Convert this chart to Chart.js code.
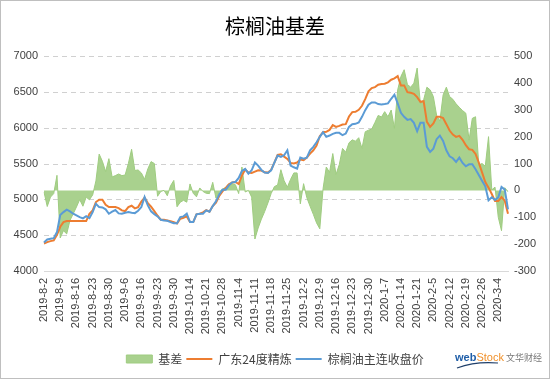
<!DOCTYPE html>
<html><head><meta charset="utf-8">
<script src="https://cdn.jsdelivr.net/npm/chart.js@4.4.1/dist/chart.umd.min.js"></script>
<style>
html,body{margin:0;padding:0;background:#fff;}
#wrap{position:relative;width:550px;height:379px;}
canvas{display:block;}
</style></head><body>
<div id="wrap"><canvas id="c" width="550" height="379"></canvas></div>
<script>
const dates = [
"2019-8-2","2019-8-5","2019-8-6","2019-8-7","2019-8-8","2019-8-9","2019-8-12","2019-8-13","2019-8-14","2019-8-15",
"2019-8-16","2019-8-19","2019-8-20","2019-8-21","2019-8-22","2019-8-23","2019-8-26","2019-8-27","2019-8-28","2019-8-29",
"2019-8-30","2019-9-2","2019-9-3","2019-9-4","2019-9-5","2019-9-6","2019-9-9","2019-9-10","2019-9-11","2019-9-12",
"2019-9-16","2019-9-17","2019-9-18","2019-9-19","2019-9-20","2019-9-23","2019-9-24","2019-9-25","2019-9-26","2019-9-27",
"2019-9-30","2019-10-8","2019-10-9","2019-10-10","2019-10-11","2019-10-14","2019-10-15","2019-10-16","2019-10-17","2019-10-18",
"2019-10-21","2019-10-22","2019-10-23","2019-10-24","2019-10-25","2019-10-28","2019-10-29","2019-10-30","2019-10-31","2019-11-1",
"2019-11-4","2019-11-5","2019-11-6","2019-11-7","2019-11-8","2019-11-11","2019-11-12","2019-11-13","2019-11-14","2019-11-15",
"2019-11-18","2019-11-19","2019-11-20","2019-11-21","2019-11-22","2019-11-25","2019-11-26","2019-11-27","2019-11-28","2019-11-29",
"2019-12-2","2019-12-3","2019-12-4","2019-12-5","2019-12-6","2019-12-9","2019-12-10","2019-12-11","2019-12-12","2019-12-13",
"2019-12-16","2019-12-17","2019-12-18","2019-12-19","2019-12-20","2019-12-23","2019-12-24","2019-12-25","2019-12-26","2019-12-27",
"2019-12-30","2019-12-31","2020-1-2","2020-1-3","2020-1-6","2020-1-7","2020-1-8","2020-1-9","2020-1-10","2020-1-13",
"2020-1-14","2020-1-15","2020-1-16","2020-1-17","2020-1-20","2020-1-21","2020-1-22","2020-1-23","2020-2-3","2020-2-4",
"2020-2-5","2020-2-6","2020-2-7","2020-2-10","2020-2-11","2020-2-12","2020-2-13","2020-2-14","2020-2-17","2020-2-18",
"2020-2-19","2020-2-20","2020-2-21","2020-2-24","2020-2-25","2020-2-26","2020-2-27","2020-2-28","2020-3-2","2020-3-3",
"2020-3-4","2020-3-5","2020-3-6","2020-3-9"
];
const basis = [
-6,-60,-25,-12,56,-177,-150,-162,-112,-87,
-62,-34,-59,-25,-35,-17,35,135,108,70,
118,50,55,61,55,57,100,153,74,76,
65,41,80,107,100,-22,-4,0,-20,17,
37,-61,-44,-37,-44,24,-11,-24,9,-4,
-11,-12,30,-29,-6,5,11,25,25,21,
-12,87,-6,0,-25,-181,-140,-107,-79,-47,
-12,14,20,77,36,12,41,65,65,-50,
25,-27,-59,-89,-121,-143,6,87,67,137,
59,96,156,142,177,188,183,196,156,218,
224,228,253,279,273,293,274,299,231,374,
424,449,394,384,399,455,322,337,384,374,
349,279,258,355,384,349,339,322,309,297,
287,187,268,274,94,100,90,200,2,12,
-100,-150,10,-5
];
const gd24 = [
4384,4403,4417,4426,4505,4617,4682,4696,4696,4696,
4696,4696,4696,4696,4799,4846,4962,4995,4995,4925,
4892,4892,4892,4878,4846,4836,4892,4911,4874,4892,
4967,5023,4948,4897,4836,4771,4715,4715,4706,4696,
4682,4664,4729,4743,4762,4682,4682,4790,4799,4818,
4850,4827,4906,4953,5046,5111,5158,5209,5237,5242,
5214,5331,5415,5373,5368,5387,5405,5401,5377,5373,
5410,5513,5620,5629,5596,5564,5508,5499,5513,5554,
5545,5582,5638,5685,5750,5881,5937,5942,5969,6035,
6011,6025,6044,6049,6156,6217,6221,6249,6305,6398,
6506,6552,6566,6599,6608,6613,6632,6669,6688,6720,
6590,6590,6496,6487,6473,6426,6361,6370,6081,6011,
6058,6151,6151,6133,6049,5960,5904,5872,5886,5830,
5755,5699,5690,5634,5513,5377,5242,5163,5074,4976,
4976,5032,4981,4799
];
const futures = [
4398,4440,4449,4459,4543,4780,4822,4855,4832,4799,
4776,4752,4734,4766,4738,4822,4939,4892,4887,4860,
4799,4827,4850,4804,4799,4813,4822,4813,4808,4841,
4892,5032,4916,4832,4794,4762,4715,4706,4701,4682,
4668,4668,4752,4762,4799,4682,4682,4790,4799,4799,
4846,4827,4906,4972,5069,5135,5135,5195,5237,5242,
5298,5396,5424,5359,5405,5513,5471,5410,5373,5368,
5405,5513,5610,5592,5615,5685,5471,5447,5429,5582,
5568,5582,5685,5732,5797,5872,5937,5872,5890,5914,
5928,5928,5895,5918,6011,6049,6053,6072,6151,6245,
6319,6352,6352,6329,6324,6329,6338,6403,6460,6338,
6207,6151,6109,6119,6067,5951,6067,6067,5732,5662,
5708,5839,5890,5816,5685,5601,5573,5522,5582,5508,
5461,5489,5489,5419,5340,5261,5181,4986,5028,4990,
5028,5172,5135,4860
];
const seriesNames = ["基差","广东24度精炼","棕榈油主连收盘价"];
const titleText = "棕榈油基差";

const CJK = '"Noto Sans CJK SC", "Microsoft YaHei", sans-serif';
const NUM = '"Liberation Sans", Arial, sans-serif';

const dashedGrid = {
  id: 'dashedGrid',
  beforeDatasetsDraw(chart) {
    const ctx = chart.ctx, s = chart.scales.y, a = chart.chartArea;
    ctx.save();
    ctx.strokeStyle = '#d0d0d0';
    ctx.lineWidth = 1;
    ctx.setLineDash([5, 4]);
    s.ticks.forEach(t => {
      if (t.value === s.min) return;
      const y = Math.round(s.getPixelForValue(t.value)) + 0.5;
      ctx.beginPath(); ctx.moveTo(a.left, y); ctx.lineTo(a.right, y); ctx.stroke();
    });
    ctx.restore();
  }
};

const frame = {
  id: 'frame',
  afterDraw(chart) {
    const ctx = chart.ctx;
    ctx.save();
    ctx.strokeStyle = '#bfbfbf';
    ctx.lineWidth = 1;
    ctx.strokeRect(0.5, 0.5, chart.width - 1, chart.height - 1);
    ctx.textBaseline = 'alphabetic';
    ctx.font = 'bold 11px ' + NUM;
    ctx.fillStyle = '#1f5ea8';
    ctx.fillText('web', 455, 361);
    const w = ctx.measureText('web').width;
    ctx.fillStyle = '#f0902a';
    ctx.font = '11px ' + NUM;
    ctx.fillText('Stock', 455 + w, 361);
    ctx.strokeStyle = '#1f3f6a';
    ctx.lineWidth = 1.2;
    ctx.beginPath();
    ctx.moveTo(457, 368);
    ctx.quadraticCurveTo(476, 361, 498, 363);
    ctx.stroke();
    ctx.fillStyle = '#777';
    ctx.font = '9px ' + CJK;
    ctx.fillText('文华财经', 506, 361);
    ctx.restore();
  }
};

new Chart(document.getElementById('c'), {
  type: 'line',
  data: {
    labels: dates,
    datasets: [
      { label: seriesNames[0], data: basis, yAxisID: 'y1', fill: 'origin',
        backgroundColor: '#a9d18e', borderColor: '#9fcc80', borderWidth: 1,
        pointRadius: 0, tension: 0, order: 3, pointStyle: 'rect' },
      { label: seriesNames[1], data: gd24, yAxisID: 'y', fill: false,
        borderColor: '#ed7d31', backgroundColor: '#ed7d31', borderWidth: 2,
        pointRadius: 0, tension: 0, order: 2, pointStyle: 'line' },
      { label: seriesNames[2], data: futures, yAxisID: 'y', fill: false,
        borderColor: '#5b9bd5', backgroundColor: '#5b9bd5', borderWidth: 2,
        pointRadius: 0, tension: 0, order: 1, pointStyle: 'line' }
    ]
  },
  options: {
    responsive: false,
    animation: false,
    devicePixelRatio: 1,
    layout: { padding: { left: 0, right: 0, top: 0, bottom: 4 } },
    plugins: {
      title: { display: true, text: titleText, color: '#000',
        font: { family: CJK, size: 20, weight: 'normal' },
        padding: { top: 14, bottom: 18 } },
      legend: { position: 'bottom',
        labels: { usePointStyle: true, pointStyleWidth: 26, boxHeight: 8,
          color: '#404040', font: { family: CJK, size: 12 }, padding: 4,
          sort: (a, b) => a.datasetIndex - b.datasetIndex } },
      tooltip: { enabled: false }
    },
    scales: {
      x: {
        offset: false,
        grid: { display: false, drawTicks: false },
        border: { display: true, color: '#d9d9d9' },
        ticks: { autoSkip: false, maxRotation: 90, minRotation: 90, padding: 7,
          color: '#404040', font: { family: NUM, size: 11 },
          callback: function(v, i) { return i % 5 === 0 ? dates[i] : ''; } },
        afterFit(s) { s.height = 78; }
      },
      y: {
        position: 'left', min: 4000, max: 7000,
        ticks: { stepSize: 500, color: '#404040', font: { family: NUM, size: 11 }, padding: 6,
          callback: v => String(v) },
        grid: { display: false, drawTicks: false },
        border: { display: false },
        afterFit(s) { s.width = 44; }
      },
      y1: {
        position: 'right', min: -300, max: 500,
        ticks: { stepSize: 100, color: '#404040', font: { family: NUM, size: 11 }, padding: 6,
          callback: v => String(v) },
        grid: { display: false, drawTicks: false },
        border: { display: false },
        afterFit(s) { s.width = 42; }
      }
    }
  },
  plugins: [dashedGrid, frame]
});
</script>
</body></html>
